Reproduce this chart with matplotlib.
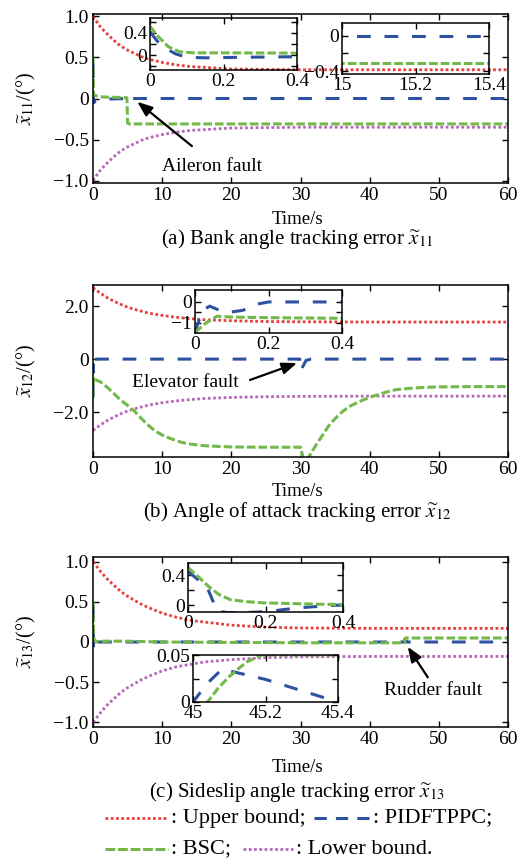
import matplotlib
matplotlib.use("Agg")
import matplotlib.pyplot as plt
from matplotlib.lines import Line2D

plt.rcParams['font.family'] = ['Liberation Serif', 'DejaVu Serif']
plt.rcParams['mathtext.fontset'] = 'stix'
plt.rcParams['axes.unicode_minus'] = True

W, H = 532, 864
RED = '#e5403d'
BLUE = '#2d52a0'
GREEN = '#72b94a'
PURPLE = '#b768b9'
FS = 14
FS_CAP = 15
FS_LEG = 16

# ---------------- data ----------------
# Panel (a): bank angle tracking error
t_bound1 = [0, 1, 2, 3, 4, 5, 6, 7, 8, 10, 12, 14, 16, 20, 25, 30, 40, 50, 60]
upper1 = [1.0, 0.88, 0.79, 0.71, 0.64, 0.59, 0.55, 0.51, 0.48, 0.44, 0.41, 0.39, 0.38, 0.36, 0.355, 0.35, 0.35, 0.35, 0.35]
lower1 = [-1.0, -0.88, -0.79, -0.71, -0.64, -0.59, -0.55, -0.51, -0.48, -0.44, -0.41, -0.39, -0.38, -0.36, -0.355, -0.35, -0.35, -0.35, -0.35]
t_pid1 = [0, 0.02, 0.04, 0.07, 0.1, 0.15, 0.25, 0.4, 1, 4.95, 5.05, 5.4, 6, 15, 30, 45, 60]
pid1 = [0.42, 0.25, 0.13, 0.02, -0.04, -0.05, -0.04, -0.03, -0.01, 0.0, -0.04, -0.01, 0.0, 0.0, 0.0, 0.0, 0.0]
t_bsc1 = [0, 0.02, 0.05, 0.08, 0.12, 0.2, 0.4, 1, 4.9, 5.0, 5.3, 10, 15, 30, 45, 60]
bsc1 = [0.52, 0.35, 0.15, 0.06, 0.04, 0.04, 0.035, 0.02, 0.01, -0.30, -0.31, -0.31, -0.31, -0.31, -0.31, -0.31]

# Panel (b): angle of attack tracking error
t_bound2 = [0, 1, 2, 3, 4, 5, 6, 7, 8, 10, 12, 14, 16, 20, 25, 30, 40, 50, 60]
upper2 = [2.7, 2.5, 2.33, 2.19, 2.07, 1.96, 1.88, 1.81, 1.74, 1.65, 1.58, 1.53, 1.49, 1.45, 1.42, 1.41, 1.4, 1.4, 1.4]
lower2 = [-2.7, -2.5, -2.33, -2.19, -2.07, -1.96, -1.88, -1.81, -1.74, -1.65, -1.58, -1.53, -1.49, -1.45, -1.42, -1.41, -1.4, -1.4, -1.4]
t_pid2 = [0, 0.02, 0.04, 0.06, 0.09, 0.13, 0.17, 0.2, 0.4, 29.9, 30.05, 30.3, 30.8, 31.5, 45, 60]
pid2 = [-1.45, -0.4, -0.2, -0.35, -0.5, -0.4, -0.1, 0.0, 0.0, 0.0, -0.45, -0.3, -0.05, 0.0, 0.0, 0.0]
t_bsc2 = [0, 0.03, 0.06, 0.1, 0.2, 0.4, 0.5, 1, 2, 3, 4, 5, 6, 7, 8, 9, 10, 11, 12, 13, 14, 16, 18, 20, 25, 30.0,
          30.5, 31.2, 32, 33, 34, 35, 36, 37, 38, 39, 40, 41, 42, 43, 44, 46, 48, 50, 55, 60]
bsc2 = [-1.45, -1.0, -0.68, -0.72, -0.75, -0.78, -0.8, -0.85, -1.05, -1.3, -1.55, -1.75, -1.97, -2.25, -2.5, -2.72,
        -2.87, -2.98, -3.08, -3.16, -3.21, -3.27, -3.3, -3.32, -3.33, -3.33,
        -3.85, -3.7, -3.35, -2.95, -2.55, -2.25, -2.0, -1.8, -1.67, -1.55, -1.45, -1.36, -1.28, -1.2, -1.15, -1.1,
        -1.07, -1.05, -1.04, -1.04]

# Panel (c): sideslip angle tracking error
t_bound3 = [0, 1, 2, 3, 4, 5, 6, 7, 8, 10, 12, 14, 16, 20, 25, 30, 40, 50, 60]
upper3 = [1.0, 0.89, 0.79, 0.71, 0.63, 0.57, 0.52, 0.47, 0.43, 0.36, 0.31, 0.27, 0.25, 0.21, 0.185, 0.175, 0.17, 0.17, 0.17]
lower3 = [-1.0, -0.89, -0.79, -0.71, -0.63, -0.57, -0.52, -0.47, -0.43, -0.36, -0.31, -0.28, -0.25, -0.22, -0.195, -0.185, -0.18, -0.18, -0.18]
t_pid3 = [0, 0.03, 0.05, 0.075, 0.1, 0.15, 0.2, 0.28, 0.37, 0.4, 1, 10, 30, 45.0, 45.04, 45.08, 45.2, 45.3, 45.4, 46, 60]
pid3 = [0.45, 0.32, 0.23, -0.08, -0.1, -0.1, -0.09, -0.04, -0.005, 0.0, 0.0, 0.0, 0.0, 0.0, 0.02, 0.035, 0.024, 0.012, 0.0, 0.0, 0.0]
t_bsc3 = [0, 0.03, 0.057, 0.08, 0.11, 0.15, 0.19, 0.3, 0.4, 1, 5, 10, 20, 30, 40, 45.0, 45.04, 45.07, 45.1, 45.13,
          45.15, 45.19, 45.3, 46, 50, 60]
bsc3 = [0.5, 0.36, 0.23, 0.14, 0.07, 0.045, 0.03, 0.015, 0.005, 0.01, 0.01, 0.0, -0.005, -0.01, -0.01, -0.01, 0.0,
        0.015, 0.027, 0.037, 0.043, 0.05, 0.05, 0.05, 0.05, 0.05]

x_ticks = [0, 10, 20, 30, 40, 50, 60]
captions = [r'(a) Bank angle tracking error $\widetilde{x}_{11}$',
            r'(b) Angle of attack tracking error $\widetilde{x}_{12}$',
            r'(c) Sideslip angle tracking error $\widetilde{x}_{13}$']
ylabels = [r'$\widetilde{x}_{11}$/(°)', r'$\widetilde{x}_{12}$/(°)', r'$\widetilde{x}_{13}$/(°)']
legend_labels = [': Upper bound;', ': PIDFTPPC;', ': BSC;', ': Lower bound.']

# ---------------- styles ----------------
ST_UP = dict(color=RED, lw=2.0, ls=(0, (1, 0.9)))
ST_LO = dict(color=PURPLE, lw=2.0, ls=(0, (1, 0.9)))
ST_PID = dict(color=BLUE, lw=2.2, ls=(0, (4.5, 4.5)))
ST_BSC = dict(color=GREEN, lw=2.2, ls=(0, (2.8, 1.0)))


def rect(l, t, r, b):
    return [l / W, 1 - b / H, (r - l) / W, (b - t) / H]


def style_axes(ax):
    ax.tick_params(direction='in', top=True, right=True, labelsize=FS, length=4, width=1.0, pad=3)
    for s in ax.spines.values():
        s.set_linewidth(1.1)


fig = plt.figure(figsize=(W / 100, H / 100), dpi=100)

boxes = [(93, 14, 508, 183), (93, 285, 508, 457), (93, 557, 508, 727)]
ylims = [(-1.03, 1.03), (-3.7, 2.8), (-1.06, 1.06)]
yticks = [[-1.0, -0.5, 0, 0.5, 1.0], [-2.0, 0, 2.0], [-1.0, -0.5, 0, 0.5, 1.0]]
ytl = [['−1.0', '−0.5', '0', '0.5', '1.0'], ['−2.0', '0', '2.0'], ['−1.0', '−0.5', '0', '0.5', '1.0']]
data = [(t_bound1, upper1, lower1, t_pid1, pid1, t_bsc1, bsc1),
        (t_bound2, upper2, lower2, t_pid2, pid2, t_bsc2, bsc2),
        (t_bound3, upper3, lower3, t_pid3, pid3, t_bsc3, bsc3)]
time_y = [219, 491, 768]
cap_y = [239, 512, 792]

mains = []
for i in range(3):
    ax = fig.add_axes(rect(*boxes[i]))
    tb, up, lo, tp, pp, tg, gg = data[i]
    ax.plot(tb, up, **ST_UP)
    ax.plot(tb, lo, **ST_LO)
    ax.plot(tp, pp, **ST_PID)
    ax.plot(tg, gg, **ST_BSC)
    ax.set_xlim(0, 60)
    ax.set_ylim(*ylims[i])
    ax.set_xticks(x_ticks)
    ax.set_yticks(yticks[i])
    ax.set_yticklabels(ytl[i])
    style_axes(ax)
    fig.text(26 / W, 1 - (boxes[i][1] + boxes[i][3]) / 2 / H, ylabels[i], rotation=90,
             ha='center', va='center', fontsize=14.5)
    fig.text(297 / W, 1 - time_y[i] / H, 'Time/s', ha='center', va='center', fontsize=13.5)
    fig.text(297 / W, 1 - cap_y[i] / H, captions[i], ha='center', va='center', fontsize=FS_CAP)
    mains.append(ax)


def inset(box, xlim, ylim, xt, xtl, yt, ytlab, series):
    a = fig.add_axes(rect(*box))
    a.patch.set_alpha(0)
    for (tt, vv, st) in series:
        a.plot(tt, vv, **st)
    a.set_xlim(*xlim)
    a.set_ylim(*ylim)
    a.set_xticks(xt)
    a.set_xticklabels(xtl)
    a.set_yticks(yt)
    a.set_yticklabels(ytlab)
    style_axes(a)
    a.tick_params(pad=2)
    return a


# Panel (a) insets
inset((150, 18, 297, 70), (0, 0.4), (-0.27, 0.67), [0, 0.2, 0.4], ['0', '0.2', '0.4'],
      [-0.2, 0, 0.2, 0.4, 0.6], ['', '0', '', '0.4', ''],
      [(t_pid1, pid1, ST_PID), (t_bsc1, bsc1, ST_BSC)])
inset((342, 23, 489, 74), (15, 15.4), (-0.43, 0.14), [15, 15.2, 15.4], ['15', '15.2', '15.4'],
      [-0.4, -0.2, 0], ['−0.4', '', '0'],
      [(t_pid1, pid1, ST_PID), (t_bsc1, bsc1, ST_BSC)])
# Panel (b) inset
inset((195, 290, 342, 333), (0, 0.4), (-1.48, 0.57), [0, 0.2, 0.4], ['0', '0.2', '0.4'],
      [-1, -0.5, 0], ['−1', '', '0'],
      [(t_pid2, pid2, ST_PID), (t_bsc2, bsc2, ST_BSC)])
# Panel (c) insets
inset((188, 563, 343, 612), (0, 0.4), (-0.093, 0.56), [0, 0.2, 0.4], ['0', '0.2', '0.4'],
      [0, 0.2, 0.4], ['0', '', '0.4'],
      [(t_pid3, pid3, ST_PID), (t_bsc3, bsc3, ST_BSC)])
inset((193, 655, 338, 702), (45, 45.4), (0, 0.05), [45, 45.2, 45.4], ['45', '45.2', '45.4'],
      [0, 0.025, 0.05], ['0', '', '0.05'],
      [(t_pid3, pid3, ST_PID), (t_bsc3, bsc3, ST_BSC)])

# annotations
arrow = dict(arrowstyle='-|>,head_width=0.35,head_length=0.9', color='k', lw=1.6, shrinkA=0, shrinkB=0)
mains[0].annotate('', xy=(6.4, -0.04), xytext=(14.3, -0.58), arrowprops=arrow)
mains[0].text(17.2, -0.83, 'Aileron fault', fontsize=FS, ha='center', va='center')
mains[1].annotate('', xy=(29.5, -0.15), xytext=(22.7, -0.79), arrowprops=arrow)
mains[1].text(13.3, -0.9, 'Elevator fault', fontsize=FS, ha='center', va='center')
mains[2].annotate('', xy=(45.5, -0.06), xytext=(48.4, -0.44), arrowprops=arrow)
mains[2].text(49.2, -0.6, 'Rudder fault', fontsize=FS, ha='center', va='center')


# legend rows drawn as figure artists
def leg_line(x0, x1, y, st):
    fig.add_artist(Line2D([x0 / W, x1 / W], [1 - y / H, 1 - y / H], transform=fig.transFigure, **st))


r1, r2 = 818, 849
leg_line(105, 168, r1, ST_UP)
fig.text(171 / W, 1 - r1 / H, legend_labels[0], fontsize=FS_LEG, va='center', ha='left')
leg_line(314, 372, r1, dict(ST_PID, ls=(0, (4.0, 3.0))))
fig.text(373 / W, 1 - r1 / H, legend_labels[1], fontsize=FS_LEG, va='center', ha='left')
leg_line(105, 168, r2, dict(ST_BSC, ls=(0, (3.2, 0.9))))
fig.text(171 / W, 1 - r2 / H, legend_labels[2], fontsize=FS_LEG, va='center', ha='left')
leg_line(243, 293, r2, ST_LO)
fig.text(296 / W, 1 - r2 / H, legend_labels[3], fontsize=FS_LEG, va='center', ha='left')

fig.savefig('out.png', dpi=100)
